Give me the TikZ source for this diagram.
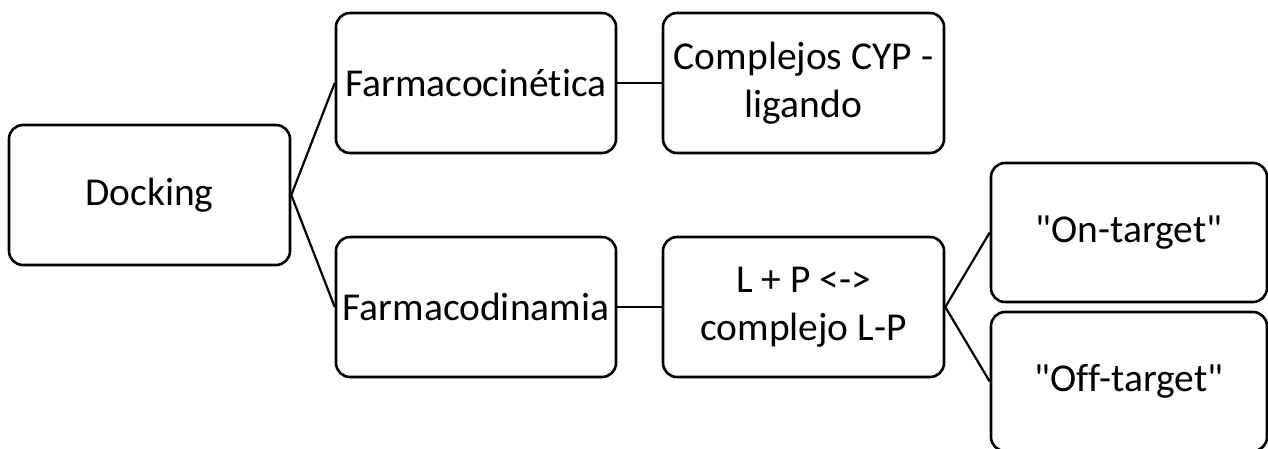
\documentclass[tikz,border=0pt]{standalone}
\usepackage{fontspec}
\setmainfont{Carlito}[Ligatures={TeXOff,NoCommon}]
\begin{document}
\begin{tikzpicture}[x=1pt,y=-1pt,
  box/.style={draw=black,line width=2.6pt,rounded corners=14pt,inner sep=0pt,align=center,
    font=\fontsize{39.5}{48}\selectfont},
  conn/.style={draw=black,line width=2.2pt}]
\useasboundingbox (0,0) rectangle (1268,448);
\fill[white] (0,0) rectangle (1268,448);
\node[box,minimum width=281pt,minimum height=140pt] (dock) at (149.5,195) {Docking};
\node[box,minimum width=280pt,minimum height=140pt] (fk) at (476,83) {Farmacocinética};
\node[box,minimum width=281pt,minimum height=140pt] (cyp) at (803.5,83) {Complejos CYP -\\ligando};
\node[box,minimum width=280pt,minimum height=140pt] (fd) at (476,307) {Farmacodinamia};
\node[box,minimum width=281pt,minimum height=140pt] (lp) at (803.5,307) {L + P <->\\complejo L-P};
\node[box,minimum width=276pt,minimum height=139pt] (on) at (1129,232.5) {"On-target"};
\node[box,minimum width=276pt,minimum height=139pt] (off) at (1129,381.5) {"Off-target"};
\draw[conn] (dock.east) -- (fk.west);
\draw[conn] (dock.east) -- (fd.west);
\draw[conn] (fk.east) -- (cyp.west);
\draw[conn] (fd.east) -- (lp.west);
\draw[conn] (lp.east) -- (on.west);
\draw[conn] (lp.east) -- (off.west);
\end{tikzpicture}
\end{document}
